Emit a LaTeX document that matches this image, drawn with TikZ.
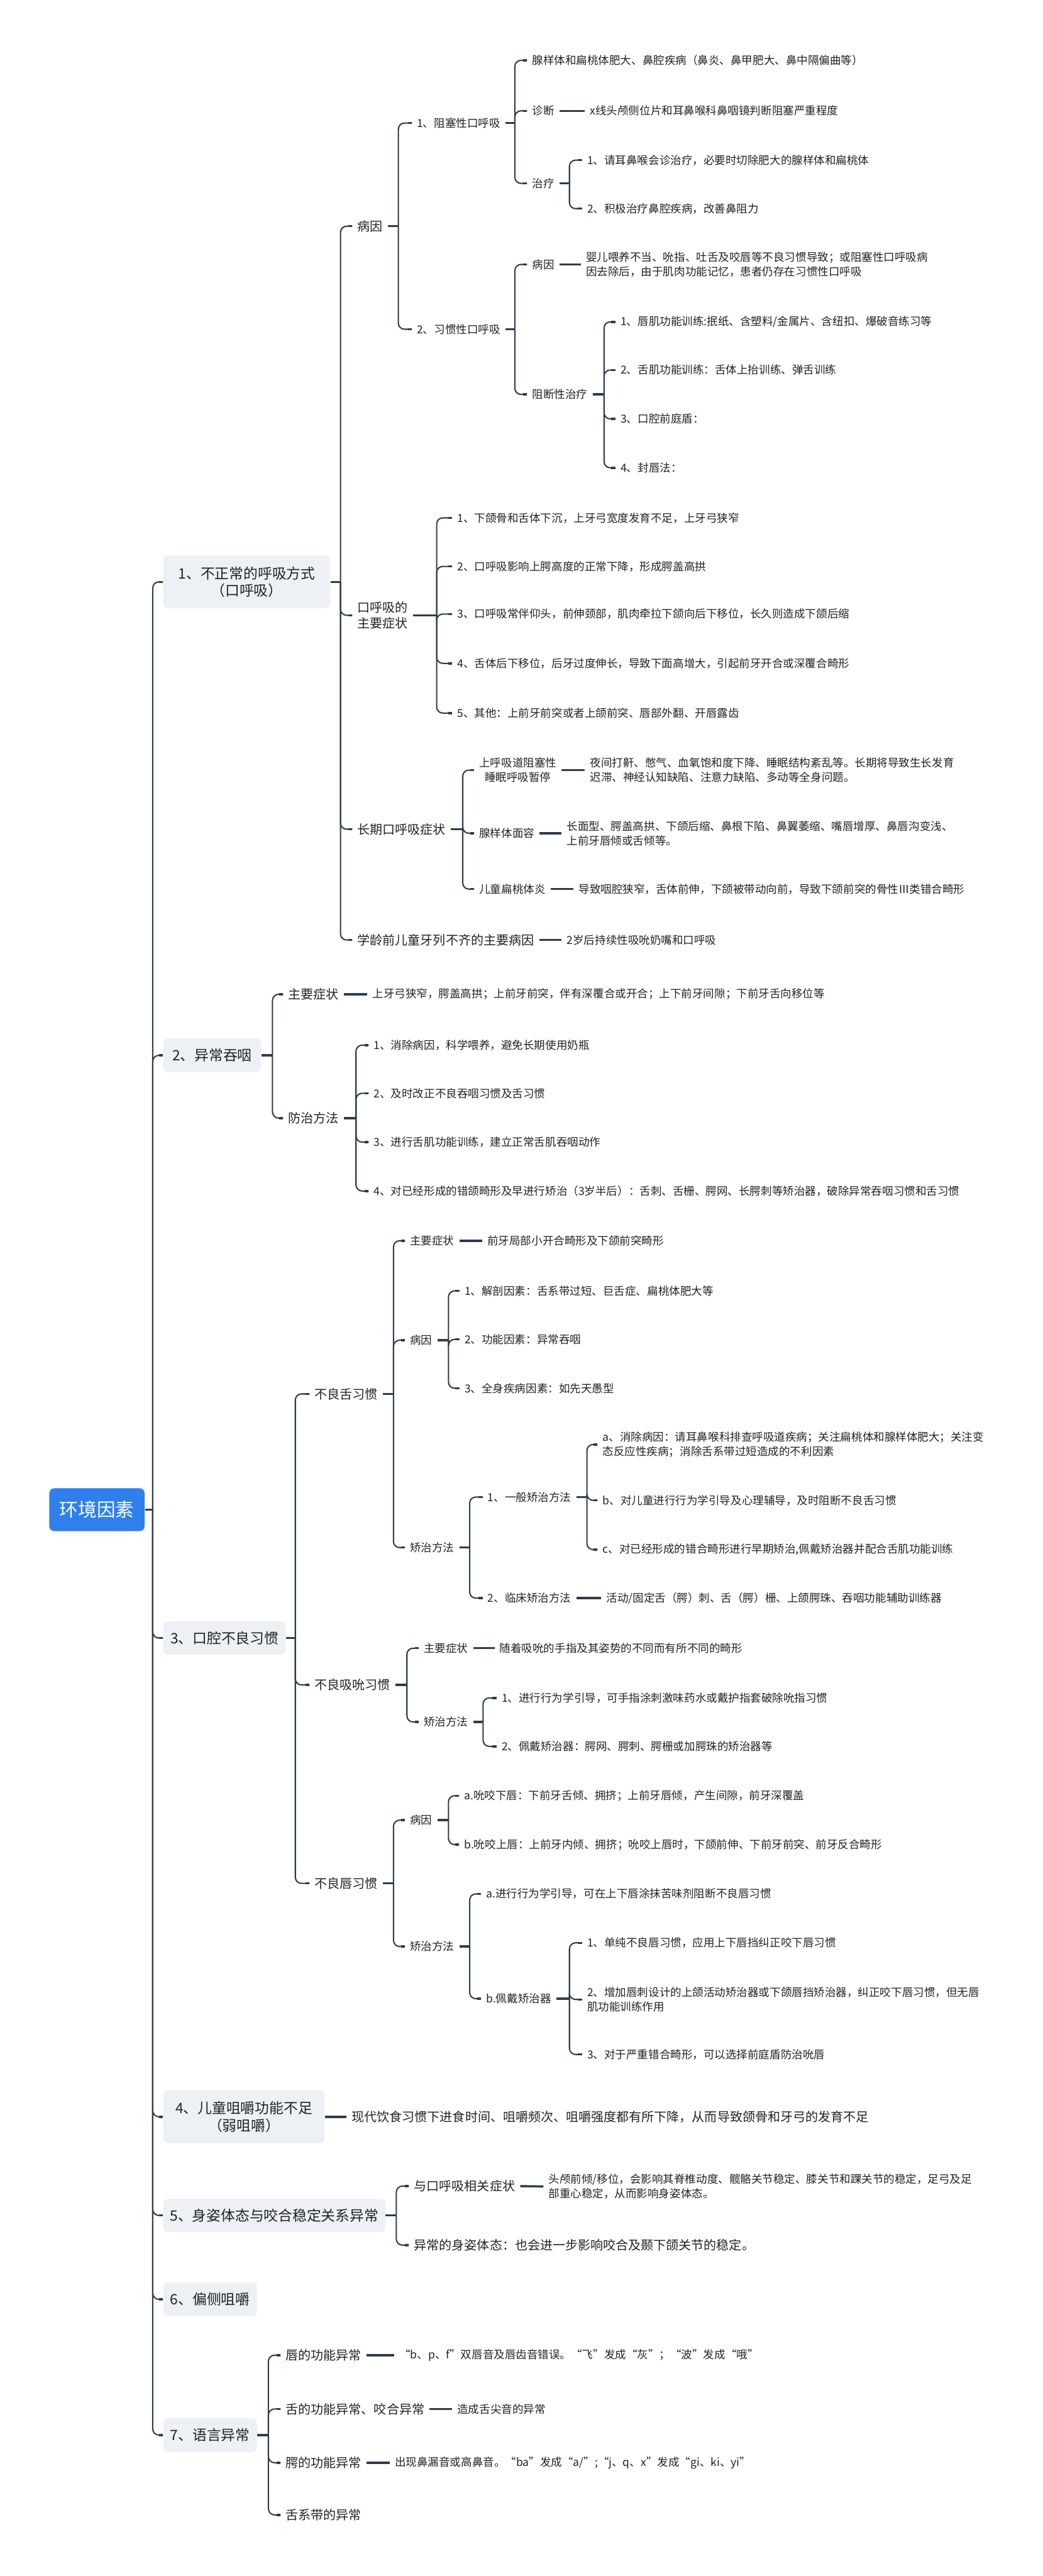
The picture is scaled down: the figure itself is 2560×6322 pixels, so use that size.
\documentclass[tikz,border=0pt]{standalone}
\usepackage{fontspec}
\setmainfont{Noto Sans CJK SC}
\definecolor{lc}{RGB}{45,60,78}
\definecolor{tc}{RGB}{34,34,34}
\definecolor{boxc}{RGB}{237,240,244}
\definecolor{rootc}{RGB}{47,128,237}
\newcommand\fzA{\fontsize{10pt}{12pt}\selectfont}
\newcommand\fzB{\fontsize{8.8pt}{10.8pt}\selectfont}
\newcommand\fzC{\fontsize{7.7pt}{10pt}\selectfont}
\newcommand\fzR{\fontsize{13pt}{15pt}\selectfont}
\tikzset{
 base/.style={anchor=west, xshift=-0.12cm, inner xsep=0.12cm, inner ysep=0.02cm, text=tc, align=left},
 tB/.style={base, font=\fzB},
 tC/.style={base, font=\fzC},
 lone/.style={anchor=west, fill=boxc, rounded corners=0.12cm, font=\fzA, text=tc, align=center, inner sep=0pt},
 rootbox/.style={fill=rootc, rounded corners=0.12cm, font=\fzR, text=white, minimum width=2.34cm, minimum height=1.05cm, inner sep=0pt},
 ln/.style={draw=lc, line width=0.9pt, rounded corners=0.15cm},
 stub/.style={draw=lc, line width=1.5pt},
}
\newcommand\kids[3]{%
 \path (#2,0) coordinate (vtmp);
 \draw[stub] (#1.east) -- (#1.east -| vtmp);
 \foreach \kk in {#3}{\draw[ln] (#1.east -| vtmp) -- (\kk.west -| vtmp) -- (\kk.west);
   \draw[stub] ([xshift=-0.1cm]\kk.west) -- (\kk.west);}
}
\newcommand\leaf[2]{\draw[stub] (#1.east) -- (#2.west);}
\begin{document}
\begin{tikzpicture}[x=0.01cm,y=-0.01cm]
\useasboundingbox (0,0) rectangle (2560,6322);
\fill[white] (0,0) rectangle (2560,6322);
% root and level 1
\node[rootbox] (R) at (238,3705) {环境因素};
\node[lone, minimum width=4.10cm, minimum height=1.30cm] (A) at (400,1428) {1、不正常的呼吸方式\\（口呼吸）};
\node[lone, minimum width=2.40cm, minimum height=0.83cm] (B) at (400,2590) {2、异常吞咽};
\node[lone, minimum width=3.01cm, minimum height=0.82cm] (C) at (400,4020) {3、口腔不良习惯};
\node[lone, minimum width=3.96cm, minimum height=1.30cm] (D) at (400,5195) {4、儿童咀嚼功能不足\\（弱咀嚼）};
\node[lone, minimum width=5.45cm, minimum height=0.81cm] (E) at (400,5437) {5、身姿体态与咬合稳定关系异常};
\node[lone, minimum width=2.30cm, minimum height=0.83cm] (F) at (400,5643) {6、偏侧咀嚼};
\node[lone, minimum width=2.30cm, minimum height=0.83cm] (G) at (400,5976) {7、语言异常};
\kids{R}{375}{A,B,C,D,E,F,G}
% ---------- subtree A
\node[tB] (A1) at (877,555) {病因};
\node[tB] (A2) at (877,1510) {口呼吸的\\主要症状};
\node[tB] (A3) at (877,2035) {长期口呼吸症状};
\node[tB] (A4) at (877,2307) {学龄前儿童牙列不齐的主要病因};
\node[tC] (A41) at (1391,2307) {2岁后持续性吸吮奶嘴和口呼吸};
\kids{A}{836}{A1,A2,A3,A4}
\leaf{A4}{A41}
\node[tC] (A11) at (1023,302) {1、阻塞性口呼吸};
\node[tC] (A12) at (1023,808) {2、习惯性口呼吸};
\kids{A1}{978}{A11,A12}
\node[tC] (A111) at (1306,148) {腺样体和扁桃体肥大、鼻腔疾病（鼻炎、鼻甲肥大、鼻中隔偏曲等）};
\node[tC] (A112) at (1306,272) {诊断};
\node[tC] (A1121) at (1448,272) {x线头颅侧位片和耳鼻喉科鼻咽镜判断阻塞严重程度};
\node[tC] (A113) at (1306,450) {治疗};
\kids{A11}{1264}{A111,A112,A113}
\leaf{A112}{A1121}
\node[tC] (A1131) at (1441,393) {1、请耳鼻喉会诊治疗，必要时切除肥大的腺样体和扁桃体};
\node[tC] (A1132) at (1441,512) {2、积极治疗鼻腔疾病，改善鼻阻力};
\kids{A113}{1398}{A1131,A1132}
\node[tC] (A121) at (1306,649) {病因};
\node[tC] (A1211) at (1438,649) {婴儿喂养不当、吮指、吐舌及咬唇等不良习惯导致；或阻塞性口呼吸病\\因去除后，由于肌肉功能记忆，患者仍存在习惯性口呼吸};
\node[tC] (A122) at (1306,968) {阻断性治疗};
\kids{A12}{1264}{A121,A122}
\leaf{A121}{A1211}
\node[tC] (A1221) at (1523,790) {1、唇肌功能训练:抿纸、含塑料/金属片、含纽扣、爆破音练习等};
\node[tC] (A1222) at (1523,908) {2、舌肌功能训练：舌体上抬训练、弹舌训练};
\node[tC] (A1223) at (1523,1028) {3、口腔前庭盾：};
\node[tC] (A1224) at (1523,1148) {4、封唇法：};
\kids{A122}{1483}{A1221,A1222,A1223,A1224}
\node[tC] (A21) at (1122,1271) {1、下颌骨和舌体下沉，上牙弓宽度发育不足，上牙弓狭窄};
\node[tC] (A22) at (1122,1390) {2、口呼吸影响上腭高度的正常下降，形成腭盖高拱};
\node[tC] (A23) at (1122,1507) {3、口呼吸常伴仰头，前伸颈部，肌肉牵拉下颌向后下移位，长久则造成下颌后缩};
\node[tC] (A24) at (1122,1628) {4、舌体后下移位，后牙过度伸长，导致下面高增大，引起前牙开合或深覆合畸形};
\node[tC] (A25) at (1122,1750) {5、其他：上前牙前突或者上颌前突、唇部外翻、开唇露齿};
\kids{A2}{1072}{A21,A22,A23,A24,A25}
\node[tC, align=center] (A31) at (1176,1890) {上呼吸道阻塞性\\睡眠呼吸暂停};
\node[tC] (A311) at (1448,1890) {夜间打鼾、憋气、血氧饱和度下降、睡眠结构紊乱等。长期将导致生长发育\\迟滞、神经认知缺陷、注意力缺陷、多动等全身问题。};
\node[tC] (A32) at (1176,2045) {腺样体面容};
\node[tC] (A321) at (1391,2045) {长面型、腭盖高拱、下颌后缩、鼻根下陷、鼻翼萎缩、嘴唇增厚、鼻唇沟变浅、\\上前牙唇倾或舌倾等。};
\node[tC] (A33) at (1176,2182) {儿童扁桃体炎};
\node[tC] (A331) at (1420,2182) {导致咽腔狭窄，舌体前伸，下颌被带动向前，导致下颌前突的骨性Ⅲ类错合畸形};
\kids{A3}{1136}{A31,A32,A33}
\leaf{A31}{A311}
\leaf{A32}{A321}
\leaf{A33}{A331}
% ---------- subtree B
\node[tB] (B1) at (707,2440) {主要症状};
\node[tC] (B11) at (914,2440) {上牙弓狭窄，腭盖高拱；上前牙前突，伴有深覆合或开合；上下前牙间隙；下前牙舌向移位等};
\node[tB] (B2) at (707,2744) {防治方法};
\kids{B}{669}{B1,B2}
\leaf{B1}{B11}
\node[tC] (B21) at (917,2565) {1、消除病因，科学喂养，避免长期使用奶瓶};
\node[tC] (B22) at (917,2683) {2、及时改正不良吞咽习惯及舌习惯};
\node[tC] (B23) at (917,2803) {3、进行舌肌功能训练，建立正常舌肌吞咽动作};
\node[tC] (B24) at (917,2923) {4、对已经形成的错颌畸形及早进行矫治（3岁半后）：舌刺、舌栅、腭网、长腭刺等矫治器，破除异常吞咽习惯和舌习惯};
\kids{B2}{874}{B21,B22,B23,B24}
% ---------- subtree C
\node[tB] (C1) at (772,3421) {不良舌习惯};
\node[tB] (C2) at (772,4135) {不良吸吮习惯};
\node[tB] (C3) at (772,4622) {不良唇习惯};
\kids{C}{725}{C1,C2,C3}
\node[tC] (C11) at (1006,3045) {主要症状};
\node[tC] (C111) at (1196,3045) {前牙局部小开合畸形及下颌前突畸形};
\node[tC] (C12) at (1006,3289) {病因};
\node[tC] (C13) at (1006,3798) {矫治方法};
\kids{C1}{966}{C11,C12,C13}
\leaf{C11}{C111}
\node[tC] (C121) at (1140,3168) {1、解剖因素：舌系带过短、巨舌症、扁桃体肥大等};
\node[tC] (C122) at (1140,3287) {2、功能因素：异常吞咽};
\node[tC] (C123) at (1140,3407) {3、全身疾病因素：如先天愚型};
\kids{C12}{1101}{C121,C122,C123}
\node[tC] (C131) at (1197,3674) {1、一般矫治方法};
\node[tC] (C132) at (1197,3922) {2、临床矫治方法};
\node[tC] (C1321) at (1488,3922) {活动/固定舌（腭）刺、舌（腭）栅、上颌腭珠、吞咽功能辅助训练器};
\kids{C13}{1153}{C131,C132}
\leaf{C132}{C1321}
\node[tC] (C1311) at (1479,3545) {a、消除病因：请耳鼻喉科排查呼吸道疾病；关注扁桃体和腺样体肥大；关注变\\态反应性疾病；消除舌系带过短造成的不利因素};
\node[tC] (C1312) at (1479,3682) {b、对儿童进行行为学引导及心理辅导，及时阻断不良舌习惯};
\node[tC] (C1313) at (1479,3803) {c、对已经形成的错合畸形进行早期矫治,佩戴矫治器并配合舌肌功能训练};
\kids{C131}{1441}{C1311,C1312,C1313}
\node[tC] (C21) at (1040,4045) {主要症状};
\node[tC] (C211) at (1226,4045) {随着吸吮的手指及其姿势的不同而有所不同的畸形};
\node[tC] (C22) at (1040,4226) {矫治方法};
\kids{C2}{999}{C21,C22}
\leaf{C21}{C211}
\node[tC] (C221) at (1231,4167) {1、进行行为学引导，可手指涂刺激味药水或戴护指套破除吮指习惯};
\node[tC] (C222) at (1231,4286) {2、佩戴矫治器：腭网、腭刺、腭栅或加腭珠的矫治器等};
\kids{C22}{1186}{C221,C222}
\node[tC] (C31) at (1006,4467) {病因};
\node[tC] (C32) at (1006,4777) {矫治方法};
\kids{C3}{966}{C31,C32}
\node[tC] (C311) at (1139,4407) {a.吮咬下唇：下前牙舌倾、拥挤；上前牙唇倾，产生间隙，前牙深覆盖};
\node[tC] (C312) at (1139,4527) {b.吮咬上唇：上前牙内倾、拥挤；吮咬上唇时，下颌前伸、下前牙前突、前牙反合畸形};
\kids{C31}{1101}{C311,C312}
\node[tC] (C321) at (1193,4648) {a.进行行为学引导，可在上下唇涂抹苦味剂阻断不良唇习惯};
\node[tC] (C322) at (1193,4905) {b.佩戴矫治器};
\kids{C32}{1153}{C321,C322}
\node[tC] (C3221) at (1441,4768) {1、单纯不良唇习惯，应用上下唇挡纠正咬下唇习惯};
\node[tC] (C3222) at (1441,4907) {2、增加唇刺设计的上颌活动矫治器或下颌唇挡矫治器，纠正咬下唇习惯，但无唇\\肌功能训练作用};
\node[tC] (C3223) at (1441,5042) {3、对于严重错合畸形，可以选择前庭盾防治吮唇};
\kids{C322}{1398}{C3221,C3222,C3223}
% ---------- subtree D
\node[tB] (D1) at (863,5195) {现代饮食习惯下进食时间、咀嚼频次、咀嚼强度都有所下降，从而导致颌骨和牙弓的发育不足};
\leaf{D}{D1}
% ---------- subtree E
\node[tB] (E1) at (1016,5365) {与口呼吸相关症状};
\node[tC] (E11) at (1346,5366) {头颅前倾/移位，会影响其脊椎动度、髋骼关节稳定、膝关节和踝关节的稳定，足弓及足\\部重心稳定，从而影响身姿体态。};
\node[tB] (E2) at (1016,5510) {异常的身姿体态：也会进一步影响咬合及颞下颌关节的稳定。};
\kids{E}{973}{E1,E2}
\leaf{E1}{E11}
% ---------- subtree G
\node[tB] (G1) at (701,5780) {唇的功能异常};
\node[tC] (G11) at (980,5780) {“b、p、f”双唇音及唇齿音错误。“飞”发成“灰”；“波”发成“哦”};
\node[tB] (G2) at (701,5912) {舌的功能异常、咬合异常};
\node[tC] (G21) at (1122,5912) {造成舌尖音的异常};
\node[tB] (G3) at (701,6044) {腭的功能异常};
\node[tC] (G31) at (969,6044) {出现鼻漏音或高鼻音。“ba”发成“a/”;“j、q、x”发成“gi、ki、yi”};
\node[tB] (G4) at (701,6172) {舌系带的异常};
\kids{G}{659}{G1,G2,G3,G4}
\leaf{G1}{G11}
\leaf{G2}{G21}
\leaf{G3}{G31}
\end{tikzpicture}
\end{document}
